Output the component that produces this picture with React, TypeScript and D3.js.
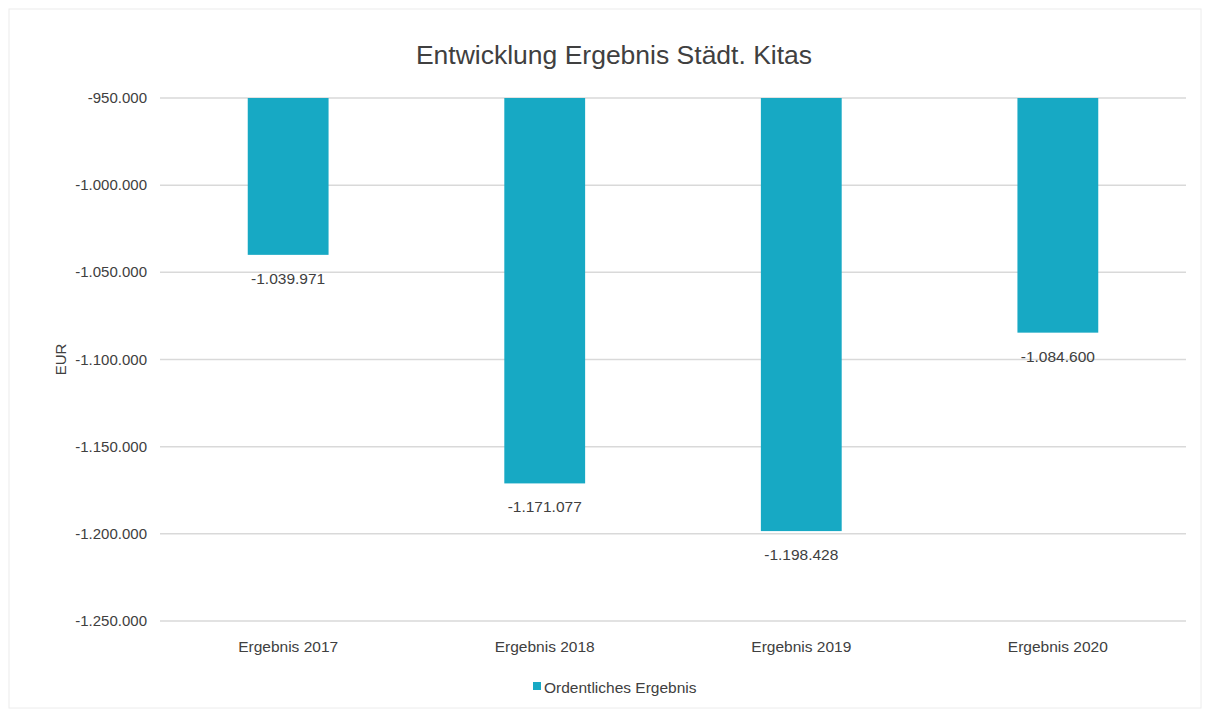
import React from "react";
import * as d3 from "d3";

const categories = ["Ergebnis 2017", "Ergebnis 2018", "Ergebnis 2019", "Ergebnis 2020"];
const values = [-1039971, -1171077, -1198428, -1084600];
const valueLabels = ["-1.039.971", "-1.171.077", "-1.198.428", "-1.084.600"];
const yTicks = [-950000, -1000000, -1050000, -1100000, -1150000, -1200000, -1250000];
const seriesName = "Ordentliches Ergebnis";
const title = "Entwicklung Ergebnis Städt. Kitas";
const yAxisTitle = "EUR";

const W = 1208;
const H = 713;
const margin = { left: 160, right: 22, top: 98, bottom: 92 };
const font = "'Liberation Sans', Arial, sans-serif";
const barColor = "#17a9c4";
const textColor = "#404040";

const locale = d3.formatLocale({
  decimal: ",",
  thousands: ".",
  grouping: [3],
  currency: ["", " €"],
  minus: "-",
});
const fmt = locale.format(",");

export default function App() {
  const x = d3
    .scaleBand<string>()
    .domain(categories)
    .range([margin.left, W - margin.right])
    .paddingInner(0.685)
    .paddingOuter(0.342);
  const y = d3.scaleLinear().domain([-950000, -1250000]).range([margin.top, H - margin.bottom]);

  return (
    <svg width={W} height={H} style={{ position: "absolute", left: 0, top: 0, background: "#fff" }}>
      <rect x={9} y={9} width={W - 16} height={H - 14} fill="none" stroke="#ececec" strokeWidth={1} />
      <text x={614} y={64} textAnchor="middle" fontFamily={font} fontSize={26.5} fill={textColor}>
        {title}
      </text>
      {yTicks.map((t) => (
        <g key={t}>
          <line x1={margin.left} x2={W - margin.right} y1={y(t)} y2={y(t)} stroke="#d9d9d9" strokeWidth={1.5} />
          <text x={147} y={y(t) + 5} textAnchor="end" fontFamily={font} fontSize={15} fill={textColor}>
            {fmt(t)}
          </text>
        </g>
      ))}
      <text
        transform={`translate(66,${(margin.top + H - margin.bottom) / 2}) rotate(-90)`}
        textAnchor="middle"
        fontFamily={font}
        fontSize={15}
        fill={textColor}
      >
        {yAxisTitle}
      </text>
      {categories.map((c, i) => {
        const bx = x(c)!;
        const y0 = y(-950000);
        const y1 = y(values[i]);
        return (
          <g key={c}>
            <rect x={bx} y={y0} width={x.bandwidth()} height={y1 - y0} fill={barColor} />
            <text
              x={bx + x.bandwidth() / 2}
              y={y1 + 29}
              textAnchor="middle"
              fontFamily={font}
              fontSize={15.5}
              fill={textColor}
            >
              {valueLabels[i]}
            </text>
            <text
              x={bx + x.bandwidth() / 2}
              y={H - margin.bottom + 31}
              textAnchor="middle"
              fontFamily={font}
              fontSize={15.5}
              fill={textColor}
            >
              {c}
            </text>
          </g>
        );
      })}
      <rect x={533} y={682} width={8} height={8} fill={barColor} />
      <text x={544} y={693} fontFamily={font} fontSize={15.5} fill={textColor}>
        {seriesName}
      </text>
    </svg>
  );
}
